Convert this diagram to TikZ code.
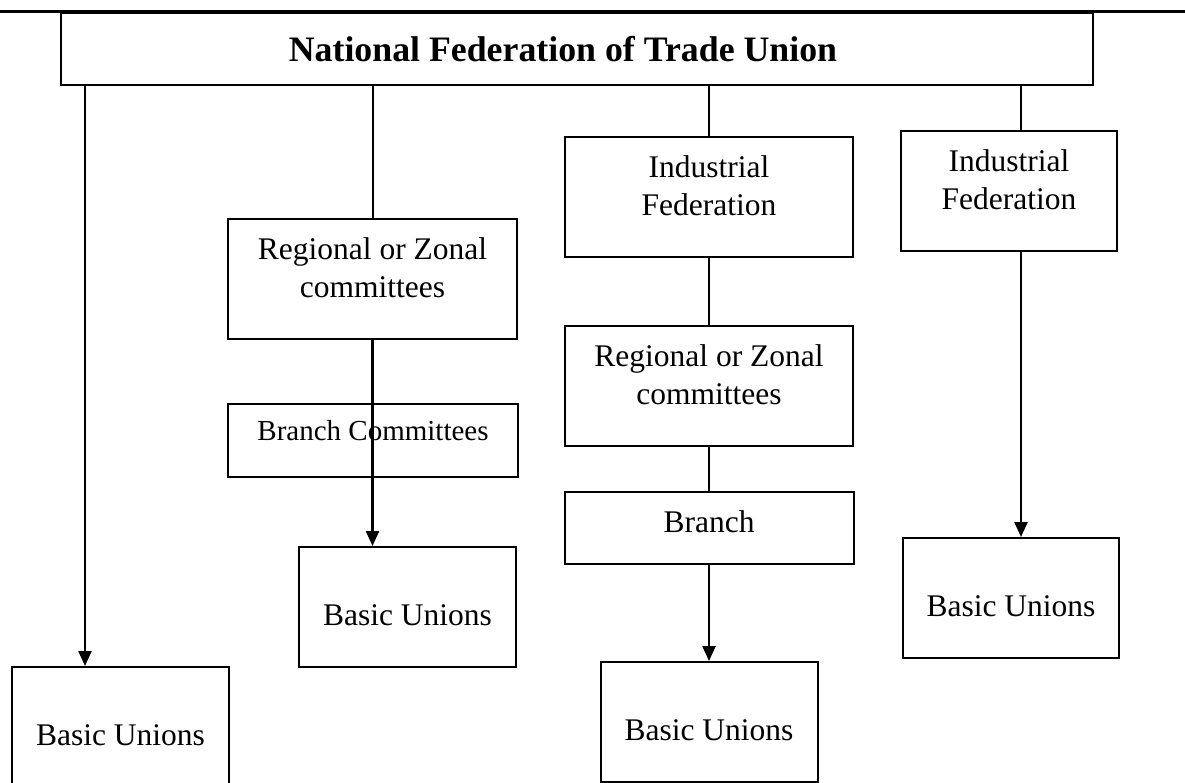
\documentclass[tikz,border=0pt]{standalone}
\usepackage{fontspec}
\setmainfont{Liberation Serif}
\usetikzlibrary{arrows.meta, positioning, calc}

\begin{document}
\begin{tikzpicture}[x=1pt, y=-1pt, >={Triangle[length=15pt,width=13pt]},
  font=\fontsize{31.5}{37.5}\selectfont]
  \tikzset{
    unitbox/.style={draw, line width=2pt, inner sep=0pt, align=center,
      minimum width=#1, text height=78pt, text depth=42pt},
    link/.style={line width=2pt},
    drop/.style={line width=2.3pt, ->}
  }
  \clip (0,0) rectangle (1185,782);
  % rule under the running head
  \draw[line width=3pt] (0,11) -- (1185,11);

  % head of the chart
  \node[draw, line width=2pt, minimum width=1032pt, minimum height=72pt, inner sep=0pt,
        font=\fontsize{35.8}{42}\selectfont\bfseries] (nftu) at (577,49)
        {\hspace*{-28pt}National Federation of Trade Union};

  % left column
  \node[unitbox=217pt] (basicL) at (120.5,727) {Basic Unions};

  % second column
  \node[unitbox=289pt] (regL) at (372.5,279) {Regional or Zonal\\committees};
  \node[draw, line width=2pt, inner sep=0pt, minimum width=290pt,
        text height=36pt, text depth=37pt, font=\fontsize{29}{35}\selectfont]
        (brcL) at (373,440.5) {Branch Committees};
  \node[unitbox=217pt] (basicM) at (407.5,607) {Basic Unions};

  % third column
  \node[unitbox=288pt] (indM) at (709,197) {Industrial\\Federation};
  \node[unitbox=288pt] (regM) at (709,386) {Regional or Zonal\\committees};
  \node[draw, line width=2pt, inner sep=0pt, minimum width=289pt,
        text height=40pt, text depth=32pt] (brM) at (709,528) {Branch};
  \node[unitbox=217pt] (basicB) at (709,722) {Basic Unions};

  % right column
  \node[unitbox=216pt] (indR) at (1009,191) {Industrial\\Federation};
  \node[unitbox=216pt] (basicR) at (1011,598) {Basic Unions};

  % connectors
  \draw[drop] ([xshift=-35.5pt]basicL.north |- nftu.south) -- ([xshift=-35.5pt]basicL.north);
  \draw[link] (regL.north |- nftu.south) -- (regL.north);
  \draw[drop] (regL.south) -- (regL.south |- basicM.north);
  \draw[link] (indM.north |- nftu.south) -- (indM.north);
  \draw[link] (indM.south) -- (regM.north);
  \draw[link] (regM.south) -- (brM.north);
  \draw[drop] (brM.south) -- (basicB.north);
  \draw[link] ([xshift=12pt]indR.north |- nftu.south) -- ([xshift=12pt]indR.north);
  \draw[drop] ([xshift=10pt]basicR.north |- indR.south) -- ([xshift=10pt]basicR.north);
\end{tikzpicture}
\end{document}
